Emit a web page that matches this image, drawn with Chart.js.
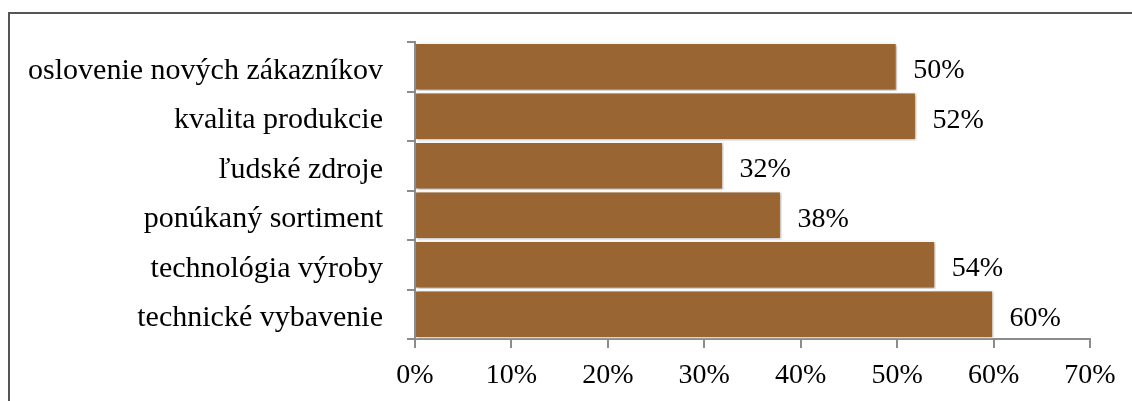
<!DOCTYPE html>
<html>
<head>
<meta charset="utf-8">
<script src="https://cdn.jsdelivr.net/npm/chart.js@4.4.1/dist/chart.umd.min.js"></script>
<style>
  body { margin: 0; background: #fff; overflow: hidden; }
  #ramik { position: absolute; left: 8px; top: 12px; width: 1300px; height: 600px;
           border-top: 2px solid #555; border-left: 2px solid #555; }
  #wrap { position: absolute; left: 0; top: 0; width: 1132px; height: 401px; }
</style>
</head>
<body>
<div id="ramik"></div>
<div id="wrap"><canvas id="grafOblasti"></canvas></div>
<script>
const kategorie = [
    "oslovenie nových zákazníkov",
    "kvalita produkcie",
    "ľudské zdroje",
    "ponúkaný sortiment",
    "technológia výroby",
    "technické vybavenie"
];
const hodnoty = [50, 52, 32, 38, 54, 60];
const osX = [0, 10, 20, 30, 40, 50, 60, 70];

const pismo = "'Liberation Serif', 'Times New Roman', serif";

// tien pod stlpcami
const tien = {
    id: 'tien',
    beforeDatasetsDraw(chart) {
        const ctx = chart.ctx;
        ctx.save();
        ctx.shadowColor = 'rgba(0,0,0,0.35)';
        ctx.shadowBlur = 3;
        ctx.shadowOffsetX = 1;
        ctx.shadowOffsetY = 1;
    },
    afterDatasetsDraw(chart) {
        chart.ctx.restore();
    }
};

// popisky hodnot za stlpcom
const popisky = {
    id: 'popisky',
    afterDatasetsDraw(chart) {
        const ctx = chart.ctx;
        const meta = chart.getDatasetMeta(0);
        ctx.save();
        ctx.font = "28px " + pismo;
        ctx.fillStyle = '#000';
        ctx.textAlign = 'left';
        ctx.textBaseline = 'middle';
        meta.data.forEach(function(bar, i){
            ctx.fillText(hodnoty[i] + '%', bar.x + 16, bar.y + 4);
        });
        ctx.restore();
    }
};

new Chart(document.getElementById('grafOblasti'), {
    type: 'bar',
    plugins: [tien, popisky],
    data: {
        labels: kategorie,
        datasets: [{
            data: hodnoty,
            backgroundColor: '#996633',
            borderColor: '#ffffff',
            borderWidth: 1.5,
            barPercentage: 0.98,
            categoryPercentage: 1
        }]
    },
    options: {
        indexAxis: 'y',
        responsive: true,
        maintainAspectRatio: false,
        animation: false,
        layout: { padding: { left: 9, top: 41, right: 42, bottom: 0 } },
        plugins: {
            legend: { display: false },
            tooltip: { enabled: false }
        },
        scales: {
            x: {
                min: 0,
                max: 70,
                afterBuildTicks: function(scale){
                    scale.ticks = osX.map(function(v){ return { value: v }; });
                },
                afterFit: function(scale){ scale.height = 62; },
                grid: { drawOnChartArea: false, tickLength: 9, color: '#8c8c8c', lineWidth: 2 },
                border: { color: '#8c8c8c', width: 2 },
                ticks: {
                    color: '#000',
                    padding: 11,
                    maxRotation: 0,
                    font: { family: pismo, size: 28 },
                    callback: function(v){ return v + '%'; }
                }
            },
            y: {
                afterFit: function(scale){ scale.width = 406; },
                grid: { drawOnChartArea: false, tickLength: 8, color: '#8c8c8c', lineWidth: 2, offset: true },
                border: { color: '#8c8c8c', width: 2 },
                ticks: {
                    color: '#000',
                    padding: 24,
                    labelOffset: 4,
                    font: { family: pismo, size: 30 }
                }
            }
        }
    }
});
</script>
</body>
</html>
